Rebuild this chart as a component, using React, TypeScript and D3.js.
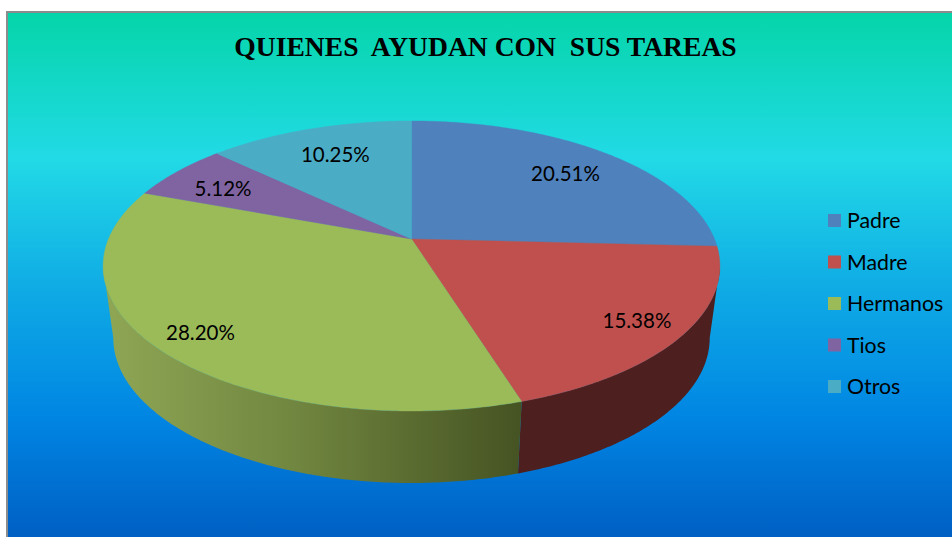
import React from "react";
import * as d3 from "d3";

const categories = ["Padre", "Madre", "Hermanos", "Tios", "Otros"];
const percents = [20.51, 15.38, 28.2, 5.12, 10.25];
const percentLabels = ["20.51%", "15.38%", "28.20%", "5.12%", "10.25%"];
const colors = ["#4f81bd", "#c0504d", "#9bbb59", "#8064a2", "#4bacc6"];
const labelRadius = [0.77, 0.85, 0.855, 0.79, 0.715];
const labelNudge = [2, 0, 0, 3, -3];
const titleText = "QUIENES  AYUDAN CON  SUS TAREAS";

const W = 952;
const H = 537;
const CX = 411.5;
const CY = 239;
const FX = 303;
const GY = 140;
const K = 0.186;
const DEPTH = 72;
const FX_BOTTOM = 293;

type P = [number, number];
const project = (theta: number, r = 1, bottom = false): P => {
  const X = Math.sin(theta) * r;
  const Y = -Math.cos(theta) * r;
  const w = 1 - K * Y;
  return [CX + ((bottom ? FX_BOTTOM : FX) * X) / w, CY + (bottom ? DEPTH : 0) + (GY * Y) / w];
};
const arcPts = (a: number, b: number, bottom = false): P[] => {
  const n = Math.max(2, Math.ceil(Math.abs(b - a) * 90));
  return d3.range(n + 1).map((i) => project(a + ((b - a) * i) / n, 1, bottom));
};
const line = d3.line<P>();
const arcs = d3.pie<number>().sort(null).value((d) => d)(percents);
const tangent = Math.acos(-K);
const visStart = tangent;
const visEnd = 2 * Math.PI - tangent;

const bgStops: [number, string][] = [
  [0, "#05d5a9"],
  [0.27, "#22dae6"],
  [0.5, "#10ade5"],
  [0.75, "#0085e3"],
  [1, "#005abf"],
];

export default function App() {
  const sideArcs = arcs
    .map((a, i) => ({ i, s: Math.max(a.startAngle, visStart), e: Math.min(a.endAngle, visEnd) }))
    .filter((d) => d.e > d.s);
  return (
    <svg width={W} height={H} style={{ position: "absolute", left: 0, top: 0, display: "block" }}>
      <defs>
        <linearGradient id="bg" x1="0" y1="0" x2="0" y2="1">
          {bgStops.map(([o, c]) => (
            <stop key={o} offset={o} stopColor={c} />
          ))}
        </linearGradient>
        <linearGradient id="side2" gradientUnits="userSpaceOnUse" x1={112} x2={518} y1={0} y2={0}>
          <stop offset="0" stopColor="#8ea554" />
          <stop offset="0.46" stopColor="#70853f" />
          <stop offset="1" stopColor="#465423" />
        </linearGradient>
      </defs>
      <rect x={0} y={0} width={W} height={H} fill="#ffffff" />
      <rect x={7} y={12} width={W + 5} height={H + 5} fill="url(#bg)" stroke="#8c8c8c" strokeWidth={2} />
      <text
        x={485.5}
        y={56}
        textAnchor="middle"
        fontFamily="'Liberation Serif', serif"
        fontWeight="bold"
        fontSize={27.6}
        fill="#000"
        style={{ whiteSpace: "pre" }}
      >
        {titleText}
      </text>
      {sideArcs.map((d) => (
        <path
          key={d.i}
          d={line([...arcPts(d.s, d.e), ...arcPts(d.e, d.s, true)])! + "Z"}
          fill={d.i === 2 ? "url(#side2)" : "#4d1f1e"}
        />
      ))}
      {arcs.map((a, i) => (
        <path
          key={i}
          d={line([[CX, CY] as P, ...arcPts(a.startAngle, a.endAngle)])! + "Z"}
          fill={colors[i]}
          stroke={colors[i]}
          strokeWidth={0.4}
        />
      ))}
      {arcs.map((a, i) => {
        const [x, y] = project((a.startAngle + a.endAngle) / 2, labelRadius[i]);
        return (
          <text key={i} x={x} y={y + 8 + labelNudge[i]} textAnchor="middle" fontFamily="Lato, sans-serif" fontSize={20.5} fill="#000">
            {percentLabels[i]}
          </text>
        );
      })}
      {categories.map((c, i) => {
        const y = 214 + i * 41.5;
        return (
          <g key={c}>
            <rect x={828} y={y} width={13} height={13} fill={colors[i]} />
            <text x={847} y={y + 14} fontFamily="Lato, sans-serif" fontSize={21.3} fill="#000">
              {c}
            </text>
          </g>
        );
      })}
    </svg>
  );
}
